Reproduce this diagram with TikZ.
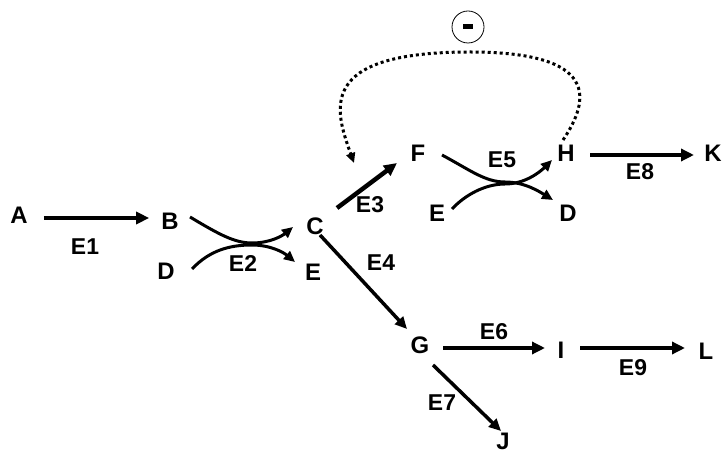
\documentclass[tikz,border=0pt]{standalone}
\usepackage{fontspec}
\setmainfont{Liberation Sans}
\usetikzlibrary{arrows.meta}
\begin{document}
\begin{tikzpicture}[x=1bp,y=-1bp,
  lbl/.style={font=\fontsize{24}{26}\selectfont\bfseries, inner sep=0pt},
  elbl/.style={font=\fontsize{23}{26}\selectfont\bfseries, inner sep=0pt},
  arrthick/.style={line width=4.5bp, -{Triangle[length=13bp,width=12bp]}},
  arrmid/.style={line width=3.5bp, -{Triangle[length=12bp,width=11bp]}},
  arrcurve/.style={line width=3bp, -{Triangle[length=11bp,width=10bp]}},
  inhib/.style={line width=3bp, dash pattern=on 3bp off 3bp, -{Triangle[length=10bp,width=9bp]}}
]
\useasboundingbox (0,0) rectangle (724,454);
% nodes
\node[lbl] (A) at (19,215) {A};
\node[lbl] (B) at (170,221) {B};
\node[lbl] (C) at (315,226) {C};
\node[lbl] (D1) at (166,271) {D};
\node[lbl] (E1n) at (313,272) {E};
\node[lbl] (F) at (418,153) {F};
\node[lbl] (E2n) at (437,213) {E};
\node[lbl] (H) at (566,153) {H};
\node[lbl] (D2) at (568,213) {D};
\node[lbl] (K) at (713,153) {K};
\node[lbl] (G) at (420,345) {G};
\node[lbl] (I) at (561,350) {I};
\node[lbl] (L) at (706,351) {L};
\node[lbl] (J) at (503,441) {J};
\node[draw, circle, line width=0.8bp, minimum size=32bp, inner sep=0pt] (M) at (468,27) {};
\fill (M.center) ++(-5,-2.5) rectangle ++(10,5);
% straight arrows
\draw[arrthick] ([shift={(16,3)}]A.east) -- ([shift={(-12,-3)}]B.west);
\draw[arrthick] ([shift={(22,-18)}]C.center) -- ([shift={(-21,10)}]F.center);
\draw[arrmid] ([shift={(5,9)}]C.center) -- ([shift={(-13,-16)}]G.center);
\draw[arrthick] ([shift={(23,3)}]G.center) -- ([shift={(-16,-2)}]I.center);
\draw[arrthick] ([shift={(19,-2)}]I.center) -- ([shift={(-21,-3)}]L.center);
\draw[arrmid] ([shift={(13,20)}]G.center) -- ([shift={(-2,-10)}]J.center);
\draw[arrthick] ([shift={(24,2)}]H.center) -- ([shift={(-19,2)}]K.center);
% curved arrows (kissing pairs)
\draw[arrcurve] ([shift={(20,-4)}]B.center) .. controls (220,235) and (235,243) .. (252,243)
  .. controls (270,243) and (282,236) .. ([shift={(-22,1)}]C.center);
\draw[arrcurve] ([shift={(26,-2)}]D1.center) .. controls (210,250) and (230,245) .. (252,245)
  .. controls (270,245) and (283,252) .. ([shift={(-18,-10)}]E1n.center);
\draw[arrcurve] ([shift={(24,2)}]F.center) .. controls (470,170) and (485,182) .. (505,182)
  .. controls (525,182) and (540,192) .. ([shift={(-15,-13)}]D2.center);
\draw[arrcurve] ([shift={(15,-4)}]E2n.center) .. controls (465,195) and (485,184) .. (505,184)
  .. controls (525,184) and (540,172) .. ([shift={(-14,7)}]H.center);
% inhibition loop
\draw[inhib] ([shift={(-3,-13)}]H.center) .. controls (590,100) and (600,52) .. (470,52)
  .. controls (315,52) and (335,110) .. ([shift={(-64,10)}]F.center);
% labels
\node[elbl] at (85,247) {E1};
\node[elbl] at (243,264) {E2};
\node[elbl] at (370,205) {E3};
\node[elbl] at (381,263) {E4};
\node[elbl] at (502,160) {E5};
\node[elbl] at (494,332) {E6};
\node[elbl] at (442,403) {E7};
\node[elbl] at (640,172) {E8};
\node[elbl] at (633,368) {E9};
\end{tikzpicture}
\end{document}
